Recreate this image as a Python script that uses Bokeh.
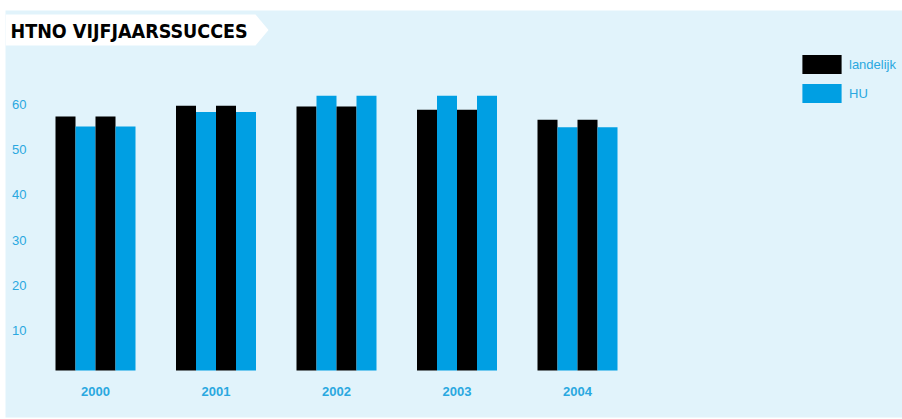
from bokeh.plotting import figure
from bokeh.models import ColumnDataSource, Range1d, Legend, LegendItem
from bokeh.transform import dodge
from bokeh.core.properties import value
from bokeh.embed import file_html
from bokeh.resources import INLINE

# ---- data ----
years = ["2000", "2001", "2002", "2003", "2004"]
landelijk = [56.2, 58.6, 58.4, 57.7, 55.5]
hu = [54.0, 57.2, 60.8, 60.8, 53.8]
y_ticks = [10, 20, 30, 40, 50, 60]
y_tick_labels = ["10", "20", "30", "40", "50", "60"]
title_text = "HTNO VIJFJAARSSUCCES"

# ---- styling / geometry ----
BG = "#e1f3fb"
BLUE = "#009fe3"
TEXT_BLUE = "#2aa8e0"
W, H = 902, 419
BL, BT, BR, BB = 5, 10, 0, 2
FW, FH = W - BL - BR, H - BT - BB
PX_GROUP = 120.5          # pixels per category step
PX_UNIT = 4.52            # pixels per value unit
FIRST_CENTER_PX = 95      # pixel x of first group centre
ZERO_PX = 370             # pixel y of value 0

x0 = -(FIRST_CENTER_PX - BL) / PX_GROUP
x1 = x0 + FW / PX_GROUP
y1 = (ZERO_PX - BT) / PX_UNIT
y0 = y1 - FH / PX_UNIT


def px_x(px):
    return x0 + (px - BL) / PX_GROUP


def px_y(py):
    return (ZERO_PX - py) / PX_UNIT


BAR_W = 20 / PX_GROUP
OFF1 = 30 / PX_GROUP
OFF2 = 10 / PX_GROUP

idx = list(range(len(years)))
src = ColumnDataSource(dict(x=idx, year=years, landelijk=landelijk, hu=hu))
tick_src = ColumnDataSource(dict(tick=y_ticks, label=y_tick_labels))

p = figure(width=W, height=H, title=None,
           x_range=Range1d(x0, x1), y_range=Range1d(y0, y1),
           x_axis_type=None, y_axis_type=None,
           output_backend="svg", toolbar_location=None,
           background_fill_color=BG, border_fill_color="white",
           outline_line_color=None,
           min_border_left=BL, min_border_top=BT,
           min_border_right=BR, min_border_bottom=BB)

# title tab
p.patch([px_x(5), px_x(255), px_x(268), px_x(255), px_x(5)],
        [px_y(14), px_y(14), px_y(29.5), px_y(45), px_y(45)],
        fill_color="white", line_color=None)
p.text(x=[px_x(10)], y=[px_y(30.5)], text=[title_text],
       text_font=value("'DejaVu Sans Condensed', 'Liberation Sans Narrow', 'DejaVu Sans', sans-serif"),
       text_font_style="bold",
       text_font_size="19.5px", text_color="black",
       text_baseline="middle", text_align="left")

# bars
r1 = p.vbar(x=dodge("x", -OFF1), top="landelijk", width=BAR_W, source=src,
            fill_color="black", line_color=None)
r2 = p.vbar(x=dodge("x", -OFF2), top="hu", width=BAR_W, source=src,
            fill_color=BLUE, line_color=None)
p.vbar(x=dodge("x", OFF2), top="landelijk", width=BAR_W, source=src,
       fill_color="black", line_color=None)
p.vbar(x=dodge("x", OFF1), top="hu", width=BAR_W, source=src,
       fill_color=BLUE, line_color=None)

# category labels
p.text(x="x", y=px_y(391), text="year", source=src,
       text_font=value("Liberation Sans"), text_font_style="bold",
       text_font_size="13px", text_color=TEXT_BLUE,
       text_align="center", text_baseline="middle")

# value tick labels
p.text(x=px_x(26), y=dodge("tick", -1.15), text="label", source=tick_src,
       text_font=value("Liberation Sans"), text_font_size="13px",
       text_color=TEXT_BLUE, text_align="right", text_baseline="middle")

legend = Legend(items=[LegendItem(label="landelijk", renderers=[r1]),
                       LegendItem(label="HU", renderers=[r2])],
                location=(792, 312),
                glyph_width=49, glyph_height=24, label_height=24,
                label_standoff=3, spacing=5, padding=0, margin=0,
                background_fill_alpha=0, border_line_color=None,
                label_text_color=TEXT_BLUE, label_text_font_size="13px",
                label_text_font="Liberation Sans")
p.add_layout(legend)

open("out.html", "w").write(file_html(p, INLINE))
